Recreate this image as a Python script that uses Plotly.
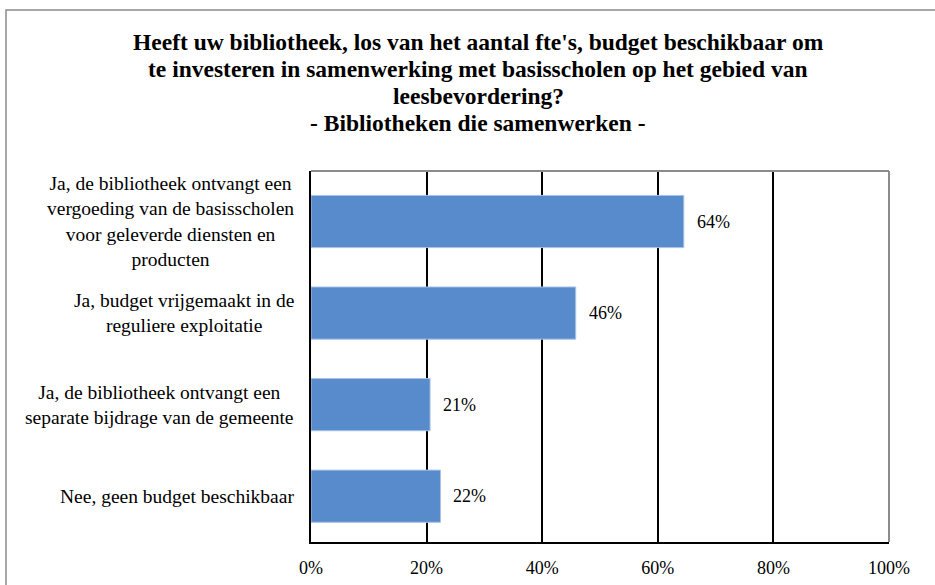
import plotly.graph_objects as go

categories = [
    "Ja, de bibliotheek ontvangt een<br>vergoeding van de basisscholen<br>voor geleverde diensten en<br>producten",
    "Ja, budget vrijgemaakt in de<br>reguliere exploitatie",
    "Ja, de bibliotheek ontvangt een<br>separate bijdrage van de gemeente",
    "Nee, geen budget beschikbaar",
]
values = [64.5, 45.8, 20.6, 22.4]
value_labels = ["64%", "46%", "21%", "22%"]
tick_values = [0, 20, 40, 60, 80, 100]
tick_labels = ["0%", "20%", "40%", "60%", "80%", "100%"]

title_lines = [
    "Heeft uw bibliotheek, los van het aantal fte's, budget beschikbaar om",
    "te investeren in samenwerking met basisscholen op het gebied van",
    "leesbevordering?",
    "- Bibliotheken die samenwerken -",
]

W, H = 935, 585
L, R, T, B = 311, 46, 171, 43
FONT = "Liberation Serif"
pw = W - L - R
ph = H - T - B


def px_x(x):
    return (x - L) / pw


def px_y(y):
    return (H - B - y) / ph


fig = go.Figure()
fig.add_trace(go.Bar(
    y=categories, x=values, orientation="h",
    marker=dict(color="#588BCB", line=dict(color="#A9C2E6", width=1)),
    hoverinfo="skip",
))

annotations = []
for c, v, lab in zip(categories, values, value_labels):
    annotations.append(dict(x=v, y=c, xref="x", yref="y", text=lab, showarrow=False,
                            xanchor="left", xshift=11,
                            font=dict(family=FONT, size=18, color="black")))
    annotations.append(dict(x=0, y=c, xref="paper", yref="y", text=c, showarrow=False,
                            xanchor="right", align="center", xshift=-15,
                            font=dict(family=FONT, size=19.5, color="black")))

# title, one annotation per line to keep the original line spacing
title_y = [42, 68.5, 96, 123]
for line, yy in zip(title_lines, title_y):
    annotations.append(dict(x=px_x(478), y=px_y(yy), xref="paper", yref="paper",
                            text="<b>" + line + "</b>", showarrow=False,
                            xanchor="center", yanchor="middle",
                            font=dict(family=FONT, size=23.5, color="black")))

shapes = [
    dict(type="rect", xref="paper", yref="paper",
         x0=px_x(6), x1=px_x(960), y0=px_y(600), y1=px_y(10),
         line=dict(color="#8C8C8C", width=1.5), fillcolor="rgba(0,0,0,0)", layer="below"),
    dict(type="line", xref="paper", yref="paper", x0=0, x1=1, y0=1, y1=1,
         line=dict(color="#8C8C8C", width=2)),
    dict(type="line", xref="paper", yref="paper", x0=1, x1=1, y0=0, y1=1,
         line=dict(color="#8C8C8C", width=2)),
]

fig.update_layout(
    width=W, height=H,
    margin=dict(l=L, r=R, t=T, b=B, autoexpand=False),
    paper_bgcolor="white", plot_bgcolor="white",
    showlegend=False,
    bargap=0.43,
    xaxis=dict(range=[0, 100], tickmode="array", tickvals=tick_values, ticktext=tick_labels,
               showgrid=True, gridcolor="black", gridwidth=1.5,
               showline=True, linecolor="black", linewidth=2,
               zeroline=False, ticks="", ticklabelstandoff=8,
               tickfont=dict(family=FONT, size=18, color="black"), fixedrange=True),
    yaxis=dict(type="category", autorange="reversed", showticklabels=False,
               showgrid=False, showline=True, linecolor="black", linewidth=2,
               zeroline=False, ticks="", fixedrange=True),
    annotations=annotations,
    shapes=shapes,
)

fig.write_html("out.html", config={"displayModeBar": False},
               post_script="document.body.style.margin='0px';document.body.style.overflow='hidden';")
